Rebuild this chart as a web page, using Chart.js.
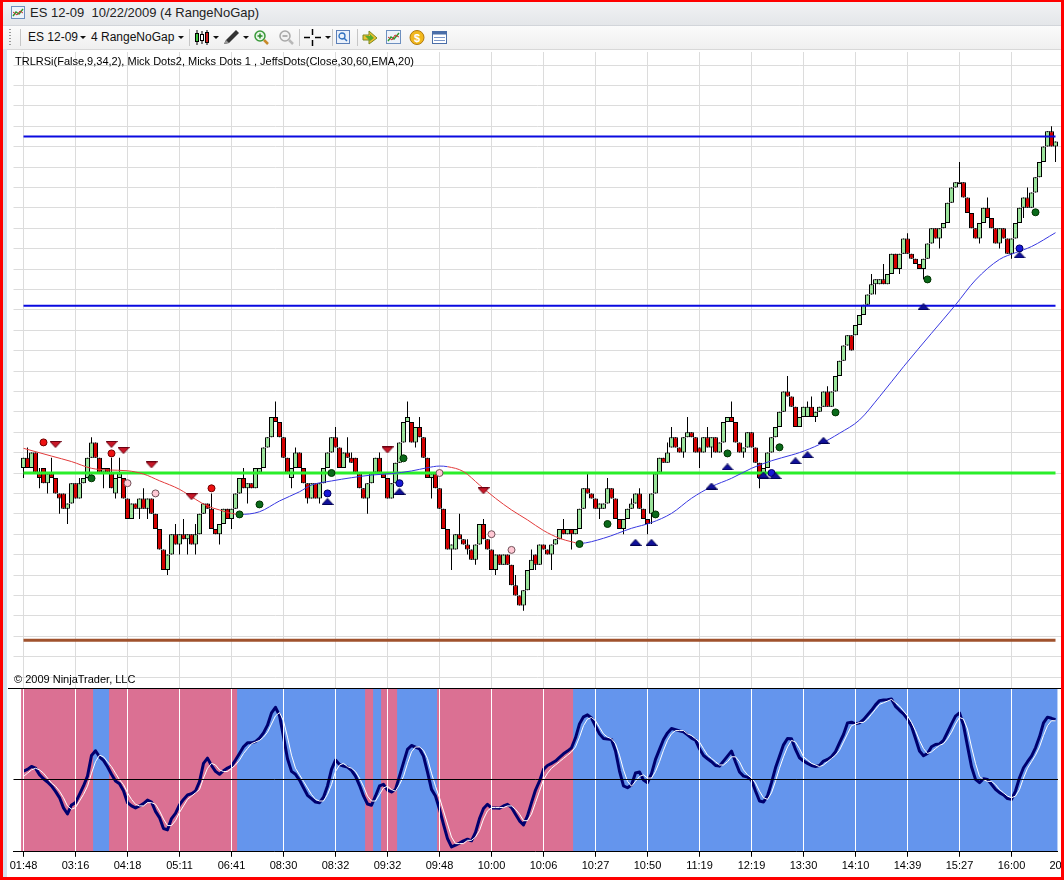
<!DOCTYPE html>
<html>
<head>
<meta charset="utf-8">
<title>ES 12-09 10/22/2009 (4 RangeNoGap)</title>
<script src="https://cdn.jsdelivr.net/npm/chart.js@4.4.1/dist/chart.umd.min.js"></script>
<style>
  html, body { margin: 0; padding: 0; background: #fff; }
  body { width: 1064px; height: 880px; overflow: hidden; position: relative;
         font-family: "Liberation Sans", Arial, sans-serif; }
  .abs { position: absolute; }
  #titlebar { position: absolute; left: 0; top: 0; width: 1064px; height: 25px;
              background: linear-gradient(#f2f3f5, #e4e6e9); border-bottom: 1px solid #d2d5da; }
  #toolbar { position: absolute; left: 0; top: 26px; width: 1064px; height: 23px;
             background: linear-gradient(#fbfbfb, #efefef); border-bottom: 1px solid #d8d8d8; }
  .txt { position: absolute; font-size: 12px; line-height: 14px; color: #111; white-space: nowrap; }
  .sep { position: absolute; top: 3px; width: 1px; height: 17px; background: #c6c6c6; }
  .arr { position: absolute; top: 10px; width: 0; height: 0;
         border-left: 3px solid transparent; border-right: 3px solid transparent; border-top: 3px solid #111; }
  .grip { position: absolute; left: 9px; top: 3px; width: 2px; height: 17px;
          background: repeating-linear-gradient(#9a9a9a 0 1px, transparent 1px 3px); }
  #price { position: absolute; left: 0; top: 52px; }
  #osc { position: absolute; left: 0; top: 686px; }
  #indLabel { position: absolute; left: 15px; top: 54px; font-size: 11px; line-height: 14px; color: #000; white-space: nowrap; }
  #copy { position: absolute; left: 14px; top: 672px; font-size: 11px; line-height: 14px; color: #000; white-space: nowrap; }
  #oscTop { position: absolute; left: 8px; top: 688px; width: 1054px; height: 1px; background: #000; z-index: 3; }
  #leftStrip { position: absolute; left: 3px; top: 49px; width: 4px; height: 828px; background: #d6e2f0; }
  #frame { position: absolute; left: 0; top: 0; width: 1064px; height: 880px; box-sizing: border-box;
           border: solid #ff0000; border-width: 2px 3px 3px 3px; pointer-events: none; z-index: 20; }
</style>
</head>
<body>
<div id="titlebar">
  <svg class="abs" style="left:11px;top:6px" width="14" height="13">
    <rect x="0.5" y="0.5" width="13" height="12" fill="#eef3fa" stroke="#6d8fbf"/>
    <polyline points="2,10 5,6 8,8 12,3" fill="none" stroke="#2c9a2c" stroke-width="1.4"/>
    <polyline points="2,6 6,9 9,5 12,7" fill="none" stroke="#d03030" stroke-width="1"/>
  </svg>
  <span class="txt" style="left:30px;top:5px;font-size:13px;line-height:15px;color:#222">ES 12-09&nbsp; 10/22/2009 (4 RangeNoGap)</span>
</div>
<div id="toolbar">
  <div class="grip"></div>
  <div class="sep" style="left:20px"></div>
  <span class="txt" style="left:28px;top:4px">ES 12-09</span><div class="arr" style="left:80px"></div>
  <span class="txt" style="left:91px;top:4px">4 RangeNoGap</span><div class="arr" style="left:178px"></div>
  <div class="sep" style="left:189px"></div>
  <svg class="abs" style="left:194px;top:3px" width="18" height="17">
    <line x1="3" y1="1" x2="3" y2="16" stroke="#000"/><rect x="1.5" y="4.5" width="3" height="8" fill="#3cc23c" stroke="#000"/>
    <line x1="8" y1="2" x2="8" y2="15" stroke="#000"/><rect x="6.5" y="5.5" width="3" height="6" fill="#fff" stroke="#000"/>
    <line x1="13" y1="1" x2="13" y2="16" stroke="#000"/><rect x="11.5" y="3.5" width="3" height="10" fill="#d02020" stroke="#000"/>
  </svg>
  <div class="arr" style="left:213px"></div>
  <svg class="abs" style="left:222px;top:3px" width="18" height="17">
    <polygon points="2,15 4,11 14,1 17,4 7,14" fill="#333"/><polygon points="2,15 4,11 7,14" fill="#999"/>
  </svg>
  <div class="arr" style="left:243px"></div>
  <svg class="abs" style="left:253px;top:3px" width="17" height="17">
    <circle cx="7" cy="7" r="5" fill="#e8f6e8" stroke="#3a9a3a" stroke-width="1.5"/>
    <line x1="4.5" y1="7" x2="9.5" y2="7" stroke="#2a8a2a" stroke-width="1.5"/><line x1="7" y1="4.5" x2="7" y2="9.5" stroke="#2a8a2a" stroke-width="1.5"/>
    <line x1="11" y1="11" x2="15" y2="15" stroke="#c98a2a" stroke-width="2.5"/>
  </svg>
  <svg class="abs" style="left:278px;top:3px" width="17" height="17">
    <circle cx="7" cy="7" r="5" fill="#f2f2f2" stroke="#a8a8a8" stroke-width="1.5"/>
    <line x1="4.5" y1="7" x2="9.5" y2="7" stroke="#9a9a9a" stroke-width="1.5"/>
    <line x1="11" y1="11" x2="15" y2="15" stroke="#b8b8b8" stroke-width="2.5"/>
  </svg>
  <div class="sep" style="left:299px"></div>
  <svg class="abs" style="left:304px;top:3px" width="18" height="17">
    <line x1="0" y1="8.5" x2="6" y2="8.5" stroke="#000" stroke-width="1.5"/><line x1="11" y1="8.5" x2="17" y2="8.5" stroke="#000" stroke-width="1.5"/>
    <line x1="8.5" y1="0" x2="8.5" y2="6" stroke="#000" stroke-width="1.5"/><line x1="8.5" y1="11" x2="8.5" y2="17" stroke="#000" stroke-width="1.5"/>
  </svg>
  <div class="arr" style="left:325px"></div>
  <div class="sep" style="left:332px"></div>
  <svg class="abs" style="left:335px;top:3px" width="17" height="17">
    <rect x="1.5" y="1.5" width="13" height="13" fill="#eaf1fb" stroke="#5b7fb8"/>
    <circle cx="7" cy="7" r="3" fill="none" stroke="#3070c0" stroke-width="1.3"/><line x1="9" y1="9" x2="12" y2="12" stroke="#3070c0" stroke-width="1.5"/>
  </svg>
  <div class="sep" style="left:357px"></div>
  <svg class="abs" style="left:362px;top:3px" width="17" height="17">
    <polygon points="1,6 7,6 7,2 15,9 7,15 7,11 1,11" fill="#f0c030" stroke="#7a8a20"/>
    <polygon points="3,7 8,7 8,5 12,9 8,12" fill="#5aaa2a"/>
  </svg>
  <svg class="abs" style="left:385px;top:3px" width="17" height="17">
    <rect x="1.5" y="1.5" width="14" height="13" fill="#eef3fa" stroke="#6d8fbf"/>
    <polyline points="3,12 6,8 9,10 14,4" fill="none" stroke="#2c9a2c" stroke-width="1.4"/>
    <polyline points="3,8 7,11 10,6 14,8" fill="none" stroke="#d03030"/>
  </svg>
  <svg class="abs" style="left:409px;top:3px" width="17" height="17">
    <circle cx="8" cy="8.5" r="7" fill="#f2b81c" stroke="#b07a10"/>
    <text x="8" y="12.5" font-size="11" font-weight="bold" text-anchor="middle" fill="#fff" font-family="Liberation Sans, Arial">$</text>
  </svg>
  <svg class="abs" style="left:431px;top:3px" width="17" height="17">
    <rect x="1.5" y="2.5" width="14" height="12" fill="#fff" stroke="#4a6ea8"/>
    <rect x="1.5" y="2.5" width="14" height="3" fill="#4a6ea8"/>
    <line x1="3" y1="8.5" x2="14" y2="8.5" stroke="#7a96c8"/><line x1="3" y1="11.5" x2="14" y2="11.5" stroke="#7a96c8"/>
  </svg>
</div>
<div id="leftStrip"></div>

<canvas id="price" width="1064" height="636"></canvas>
<div id="indLabel">TRLRSi(False,9,34,2), Mick Dots2, Micks Dots 1 , JeffsDots(Close,30,60,EMA,20)</div>
<div id="copy">© 2009 NinjaTrader, LLC</div>
<div id="oscTop"></div>
<canvas id="osc" width="1064" height="194"></canvas>
<div id="frame"></div>

<script>
// Range bars, prices in points measured from the floor pivot (the green line).
const opens = [
  .25,.75,.25,1,0,.25,-.5,0,-.25,-1,-1,-1.75,-1.5,
  -.5,-1.25,-.5,-.25,.75,1.5,.75,0,.25,0,-1,-.25,-.25,
  -1.25,-2.25,-1.5,-1.75,-1.25,-1.75,-1.25,-2,-2.75,-3.75,-4.75,-4,-3,
  -3.5,-3,-3.25,-3,-3.5,-3,-2,-1.5,-1.75,-2.75,-3,-2.5,-1.75,
  -2.25,-1.75,-1,-.25,-.75,-.5,-.75,0,.25,1.25,1.75,2.75,2.5,
  1.75,.75,-.25,.25,1,.25,-.5,-1.25,-.5,-1.25,-.5,.25,1,
  1.75,1.25,.25,1,.75,.75,0,-.75,-1.25,-.5,0,.75,0,
  -.25,-1.25,-.5,.5,1.5,2.5,2.5,1.5,2.25,1.75,.75,-.25,0,
  -.75,-1.75,-2.75,-3.75,-3.75,-3,-3.25,-3.5,-3.75,-4.25,-3.5,-2.5,-3.25,
  -3.75,-4.75,-4,-4.5,-4,-4.5,-5.5,-6,-6.5,-5.75,-4.75,-4,-4.5,
  -3.5,-3.75,-4,-3.5,-3.25,-2.75,-3,-2.75,-3,-2.75,-1.75,-.75,-1,
  -1.25,-1.75,-1.75,-1.5,-.75,-1.25,-2.25,-2.75,-2.25,-1.75,-1.5,-1,-1.75,
  -2.25,-2,-1,0,.75,.5,1.25,1.75,1.25,1,1.75,2,1.75,
  1.25,1,1.75,1.25,1.75,1,1.5,2.5,2.75,2.5,1.5,1,1.25,
  2,1.25,.5,-.25,.25,1,1.75,2.25,3,4,3.75,3.25,2.25,
  2.75,2.75,3.25,2.75,3,3.25,4,3.25,4,4.75,5.5,6.25,6.75,
  6.75,7.25,7.75,8.25,8.75,9.25,9.25,9.5,9.25,9.75,10.75,10,10.75,
  11.5,10.75,10.5,10.25,10,10.5,11.25,12,11.5,12,12.25,13.25,14,
  14.25,14.25,13.5,12.75,12,11.5,12.25,13,12.5,12,11.25,12,11.5,
  10.75,11.5,12.25,13,13.5,13,13.75,14.5,15.25,16,16.75,16
];
const highs = [
  .75,1.25,1,1,.25,.25,0,.75,-.25,-1,-1,-1.5,-.5,
  -.5,-.25,-.25,.75,1.75,1.5,.75,.25,.25,.75,-.25,.75,-.25,
  -1.25,-1.5,-1.5,-1.25,-.75,-1.25,-1.25,-2,-2.75,-3.75,-4,-3,-2.5,
  -3,-2.25,-3,-3,-2.5,-2,-1.5,-1.5,-1,-2.75,-2.5,-1.75,-1.75,
  -1.75,-1,-.25,.25,-.5,-.5,.25,.25,1.25,1.75,2.75,3.5,2.5,
  1.75,.75,.25,1.25,1,.25,-.5,-.5,-.5,-.5,.25,1,1.75,
  2.25,1.25,1,1.75,1,.75,0,-.75,-.5,0,.75,1,0,
  -.25,-.5,.5,1.5,2.5,3.5,2.5,2.25,2.75,1.75,.75,0,0,
  -.75,-1.75,-2.75,-3.5,-3,-2,-3.25,-3.25,-3.75,-3.5,-2.5,-2.25,-3.25,
  -3.75,-4,-4,-4,-4,-4.5,-5,-6,-5.75,-4.75,-3.75,-4,-3.5,
  -3.5,-3.75,-3.5,-3.25,-2.75,-2.25,-2.75,-2.75,-2.75,-1.75,-.75,0,-1,
  -1.25,-1.5,-1.5,-.25,-.75,-1.25,-2.25,-2.25,-1.75,-1.25,-1,-.75,-1.75,
  -2.25,-1,0,.75,.75,1.5,2.25,1.75,1.25,1.75,2.75,2,1.75,
  1.25,1.75,2.25,1.75,1.75,1.5,2.5,2.75,3.5,2.5,1.5,1.25,2,
  2,1.25,.5,.25,1,1.75,2.25,3,4,4.75,3.75,3.25,2.75,
  3.25,3.5,3.75,3,3.25,4,4.25,4,4.75,5.5,6.25,6.75,6.75,
  7.25,7.75,8.25,8.75,9.75,9.5,9.5,10.25,9.75,10.75,10.75,10.75,11.5,
  11.75,10.75,10.5,10.25,10.5,11.25,12,12,12,12.25,13.25,14,14.25,
  15.25,14.25,13.5,12.75,12,12.25,13,13.5,12.5,12,12,12,11.5,
  11.5,12.25,13,13.5,14,13.75,14.5,15.25,16,16.75,17,16.25
];
const lows = [
  -.25,.25,.25,0,-.75,-.5,-1,-.25,-1,-2,-1.75,-2.5,-1.5,
  -1.25,-1.25,-.5,-.25,.75,.75,0,-.75,0,-.75,-1.25,-.25,-1.25,
  -2.25,-2.25,-1.75,-2.25,-1.75,-2.25,-2,-2.75,-3.75,-4.75,-5,-4,-3.5,
  -4,-3.25,-4,-3.5,-4,-3,-2,-1.75,-2.75,-3,-3.5,-2.5,-2.25,
  -2.75,-1.75,-1,-.75,-1.5,-.75,-.75,0,.25,1.25,1.75,2.5,1.75,
  .75,0,-.75,.25,.25,-.5,-1.5,-1.25,-1.25,-1.5,-.5,.25,1,
  1.25,.25,.25,.75,.5,0,-.75,-1.25,-2,-.5,0,0,-.25,
  -1.25,-1.25,-.5,.5,1.5,2.5,1.5,1.25,1.75,.75,-.25,-1.25,-.75,
  -1.75,-2.75,-3.75,-4.75,-3.75,-3.25,-3.5,-4,-4.25,-4.5,-3.5,-3.25,-3.75,
  -4.75,-5,-4.5,-4.5,-4.5,-5.5,-6,-6.5,-6.75,-5.75,-4.75,-4.75,-4.5,
  -3.75,-4,-4.75,-3.5,-3.25,-3,-3,-3.75,-3,-2.75,-1.75,-1,-1.25,
  -1.75,-2.25,-1.75,-1.5,-1.25,-2.25,-2.75,-3,-2.25,-1.75,-1.5,-1.75,-2.25,
  -3,-2.5,-1,0,.5,.5,1.25,1.25,1,.75,1.75,1.75,1,
  .25,1,1.25,.75,1,1,1.5,2.5,2.5,1.5,1,.75,1.25,
  1.25,.5,-.75,-.25,.25,1,1.75,2.25,3,3.75,3.25,2.25,2.25,
  2.75,2.75,2.75,2.5,3,3.25,3.25,3.25,4,4.75,5.5,6.25,6,
  6.75,7.25,7.75,8.25,8.75,8.75,9.25,9.25,9.25,9.75,10,9.75,10.75,
  10.75,10.5,10.25,10,9.5,10.5,11.25,11.5,11,12,12.25,13.25,14,
  14.25,13.5,12.75,12,11.5,11.25,12.25,12.5,12,11.25,11,11.5,10.75,
  10.5,11.5,12.25,12.5,13,13,13.75,14.5,15.25,16,16,15.25
];
const closes = [
  .75,.25,1,0,-.25,-.5,0,-.25,-1,-1.25,-1.75,-1.5,-.5,
  -1.25,-.5,-.25,.75,1.5,.75,0,.25,0,-.75,-.25,0,-1.25,
  -2.25,-1.5,-1.75,-1.25,-1.75,-1.25,-2,-2.75,-3.75,-4.75,-4,-3,-3.5,
  -3,-3.25,-3,-3.5,-3,-2,-1.5,-1.75,-2.75,-3,-2.5,-1.75,-2.25,
  -1.75,-1,-.25,-.75,-.5,-.75,.25,.25,1.25,1.75,2.75,2.5,1.75,
  .75,0,.25,1,.25,-.5,-1.25,-.5,-1.25,-.5,.25,1,1.75,
  1.25,.25,1,.75,.5,0,-.75,-1.25,-.5,0,.75,0,-.25,
  -1.25,-.5,.5,1.5,2.5,2.75,1.5,2.25,1.75,.75,-.25,0,-.75,
  -1.75,-2.75,-3.75,-3.5,-3,-3.25,-3.5,-3.75,-4.25,-3.5,-2.5,-3.25,-3.75,
  -4.75,-4,-4.5,-4,-4.5,-5.5,-6,-6.5,-5.75,-4.75,-4.25,-4.5,-3.5,
  -3.75,-4,-3.5,-3.25,-2.75,-3,-2.75,-3,-2.75,-1.75,-.75,-1,-1.25,
  -1.75,-1.5,-1.5,-.75,-1.25,-2.25,-2.75,-2.25,-1.75,-1.5,-1,-1.75,-2.25,
  -2.5,-1,0,.75,.5,1,1.75,1.25,1,1.75,2,1.75,1,
  1,1.75,1.25,1.75,1,1.5,2.5,2.75,2.5,1.5,1,1.25,2,
  1.25,.5,-.25,.25,1,1.75,2.25,3,4,3.75,3.25,2.25,2.75,
  3.25,3.25,2.75,3,3.25,4,3.25,4,4.75,5.5,6.25,6.75,6,
  7.25,7.75,8.25,8.75,9.25,9.5,9.5,9.25,9.75,10.75,10,10.75,11.5,
  10.75,10.5,10.25,10,10.5,11.25,12,11.5,12,12.25,13.25,14,14.25,
  14.25,13.5,12.75,12,11.5,12.25,13,12.5,12,11.25,12,11.5,10.75,
  11.5,12.25,13,13.5,13,13.75,14.5,15.25,16,16.75,16,16.25
];

// Floor pivot levels: R2, R1, PP, S1
const pivotLevels = [16.5, 8.2, 0, -8.2];
const pivotColors = ['#0a0ae0', '#0a0ae0', '#2aee2a', '#a0522d'];
const pivotWidths = [2, 2, 3, 3];

// JeffsDots EMA, read every few bars
const maBars = [0,7,12,17,21,26,30,34,39,43,46,49,52,54,59,64,69,72,77,82,87,92,97,101,104,106,110,114,
  118,122,126,130,134,137,139,145,152,157,162,167,172,177,182,187,192,194,199,204,209,214,220,227,233,238,244,248,252,258];
const maValues = [1.21,0.83,0.56,0.23,0.15,0.11,-0.05,-0.38,-0.8,-1.29,-1.62,-1.81,-1.98,-2.03,-1.9,-1.37,-0.92,-0.59,
  -0.39,-0.23,-0.1,-0.03,0.1,0.26,0.34,0.31,0.07,-0.59,-1.24,-1.81,-2.3,-2.82,-3.2,-3.37,-3.45,-3.2,-2.71,-2.43,-1.98,
  -1.24,-0.67,-0.26,0.23,0.6,0.88,1.0,1.4,1.95,2.6,3.74,5.21,6.85,8.24,9.46,10.47,10.8,11.1,11.78];
const maTurnBars = [0, 54, 105, 139];
const maTurnSides = ['down', 'up', 'down', 'up'];

// dot / arrow signals: [bar, price]
const redDots = [[5,1.5],[22,0.96],[47,-0.75]];
const redArrows = [[8,1.4],[22,1.4],[25,1.1],[32,0.4],[42,-1.16],[91,1.13],[115,-0.87]];
const greenDots = [[17,-0.26],[54,-2.03],[59,-1.54],[77,0],[95,0.72],[139,-3.48],[146,-2.5],[158,-2.03],
  [176,0.96],[189,1.26],[203,2.97],[226,9.49],[253,12.78]];
const pinkDots = [[26,-0.5],[33,-1.0],[104,0],[117,-3.0],[122,-3.77]];
const blueDots = [[76,-1.0],[94,-0.5],[187,0],[249,11.01]];
const blueArrows = [[76,-1.4],[94,-0.9],[153,-3.4],[157,-3.4],[172,-0.64],[176,0.3],[185,-0.1],[188,-0.13],
  [193,0.6],[196,0.9],[200,1.6],[225,8.15],[249,10.69]];

// TRLRSi oscillator (thick) and its signal (thin white)
const rsiLine = [
  49.3,50.3,52.1,51.1,47.1,44.6,42.6,40.2,36.9,33.1,26.8,23.1,28.6,
  30.0,35.1,40.2,46.2,58.8,61.7,58.0,55.8,51.9,47.3,43.2,41.6,37.3,
  30.0,28.0,26.8,28.0,29.4,31.6,30.4,24.7,20.9,14.2,13.4,20.3,23.5,
  28.6,32.0,34.7,35.5,37.1,42.8,54.0,57.2,52.7,49.1,47.3,49.5,51.1,
  52.3,56.0,60.0,64.1,66.5,66.5,67.3,69.4,72.6,77.3,84.8,88.2,83.2,
  70.2,56.8,49.1,47.3,43.8,39.1,34.5,32.5,30.4,30.0,33.3,40.2,50.3,
  56.0,53.3,52.3,51.7,49.7,46.2,40.6,34.1,29.2,28.4,34.1,40.2,41.2,
  37.7,36.5,38.1,46.2,54.4,62.5,64.9,63.9,62.9,58.4,48.7,38.1,34.1,
  26.0,16.8,8.1,3.0,4.1,5.3,6.7,7.7,6.7,11.8,20.3,26.4,29.0,
  26.8,26.8,26.6,28.0,29.0,27.0,22.9,18.9,16.4,21.9,30.0,37.7,43.2,
  50.3,52.7,54.0,55.4,57.6,59.8,61.5,63.5,69.6,78.1,82.4,83.6,81.7,
  76.7,72.0,69.2,68.8,68.6,61.5,49.3,40.2,39.1,40.8,48.1,48.7,43.8,
  42.2,47.7,56.4,62.5,68.6,72.6,75.3,74.6,73.8,73.2,71.4,69.4,68.2,
  62.9,58.8,56.8,55.0,52.7,52.3,55.4,58.4,61.5,54.8,48.7,46.2,45.6,
  43.8,37.1,31.0,30.4,34.1,42.2,51.3,58.4,65.3,69.2,69.0,62.5,57.4,
  55.4,54.0,52.7,52.1,52.7,55.4,56.4,58.0,61.1,66.5,71.6,78.7,79.1,
  78.1,78.7,80.7,83.6,86.4,89.7,92.3,92.7,92.9,93.3,88.8,86.4,84.2,
  81.1,76.7,69.2,61.5,58.6,60.0,64.1,65.5,65.9,68.0,73.0,78.1,82.8,
  84.8,77.3,64.5,51.9,44.2,42.2,44.6,44.2,41.2,38.1,36.1,34.7,32.5,
  32.0,37.1,45.2,51.3,55.0,58.4,63.5,70.2,78.7,82.2,81.5,80.7
];
const rsiSignal = [
  46,48,50,51,50,48,45,42,40,37,33,28,26,
  27,31,35,40,48,55,59,58,55,52,48,44,41,
  36,32,29,28,28,30,30,29,25,20,16,16,19,
  24,28,32,34,36,38,45,51,54,53,50,49,49,
  51,53,56,60,63,66,67,68,70,73,78,83,85,
  80,70,59,51,47,43,39,35,32,31,31,35,41,
  49,53,54,52,51,49,45,40,34,31,31,35,39,
  40,38,37,41,46,54,61,64,64,62,57,48,40,
  33,25,17,9,5,5,5,7,7,9,13,20,25,
  27,27,27,27,28,28,26,23,19,19,23,30,37,
  44,48,51,53,55,57,59,61,64,70,77,81,82,
  80,76,72,70,69,66,59,50,43,40,43,46,47,
  45,45,49,55,62,68,72,74,74,74,72,71,69,
  67,63,59,57,55,53,53,55,58,58,55,50,47,
  45,42,37,33,32,36,43,51,58,64,68,67,63,
  58,56,54,53,52,53,55,57,59,62,67,72,77,
  78,79,79,81,84,87,90,91,92,93,91,89,86,
  83,79,74,68,63,60,61,63,65,66,69,73,78,
  82,81,75,64,54,46,44,43,43,41,38,36,34,
  33,34,38,45,51,55,59,64,71,77,80,80
];
const rsiMid = 44;
const bandStarts = [0, 18, 22, 54, 86, 88, 90, 94, 104, 138];
const bandSides = ['down','up','down','up','down','up','down','up','down','up'];

const tickBars = [0,13,26,39,52,65,78,91,104,117,130,143,156,169,182,195,208,221,234,247,258];
const timeLabels = ['01:48','03:16','04:18','05:11','06:41','08:30','08:32','09:32','09:48','10:00',
  '10:06','10:27','10:50','11:19','12:19','13:30','14:10','14:39','15:27','16:00','20'];

// ---------------------------------------------------------------------------
Chart.defaults.font.family = '"Liberation Sans", Arial, sans-serif';
Chart.defaults.font.size = 11;
Chart.defaults.color = '#000';

const UP = '#9be39b', DOWN = '#d40000', GRID = '#dcdcdc';
const bars = closes.map((_, i) => i);
const lastBar = bars[bars.length - 1];

function sideFrom(starts, sides, bar) {
  let s = sides[0];
  starts.forEach((b, k) => { if (bar >= b) s = sides[k]; });
  return s;
}

function flatTriangle(fill, stroke, down) {
  const c = document.createElement('canvas');
  c.width = 12; c.height = 7;
  const g = c.getContext('2d');
  g.beginPath();
  if (down) { g.moveTo(0.5, 0.5); g.lineTo(11.5, 0.5); g.lineTo(6, 6.5); }
  else { g.moveTo(6, 0.5); g.lineTo(11.5, 6.5); g.lineTo(0.5, 6.5); }
  g.closePath();
  g.fillStyle = fill; g.fill();
  g.strokeStyle = stroke; g.lineWidth = 1; g.stroke();
  return c;
}

const signalSet = (pairs, style) => Object.assign({
  type: 'scatter',
  data: pairs.map(([x, y]) => ({ x, y })),
  order: 0,
  pointRadius: 3.5,
  borderWidth: 1
}, style);

// price panel maps page y 52..688; green pivot sits at y 473, 20.4 px per point
const priceMax = (473 - 52) / 20.4;
const priceMin = (473 - 688) / 20.4;

new Chart(document.getElementById('price'), {
  type: 'bar',
  data: {
    datasets: [
      signalSet(redArrows, { pointStyle: flatTriangle('#c81828', '#6a0010', true) }),
      signalSet(blueArrows, { pointStyle: flatTriangle('#10109a', '#000050', false) }),
      signalSet(redDots, { pointStyle: 'circle', backgroundColor: '#ee1111', borderColor: '#700000' }),
      signalSet(greenDots, { pointStyle: 'circle', backgroundColor: '#0a6a1a', borderColor: '#003300' }),
      signalSet(pinkDots, { pointStyle: 'circle', backgroundColor: '#ffc8d4', borderColor: '#705058' }),
      signalSet(blueDots, { pointStyle: 'circle', backgroundColor: '#1818d8', borderColor: '#000060' }),
      {
        type: 'line',
        data: maBars.map((b, i) => ({ x: b, y: maValues[i] })),
        borderColor: '#3838e0',
        borderWidth: 1,
        pointRadius: 0,
        cubicInterpolationMode: 'monotone',
        segment: {
          borderColor: ctx => sideFrom(maTurnBars, maTurnSides, maBars[ctx.p0DataIndex]) === 'down' ? '#e23a3a' : '#3838e0'
        },
        order: 1
      },
      ...pivotLevels.map((lv, k) => ({
        type: 'line',
        data: [{ x: bars[0], y: lv }, { x: lastBar, y: lv }],
        borderColor: pivotColors[k],
        borderWidth: pivotWidths[k],
        pointRadius: 0,
        order: 2
      })),
      {
        type: 'bar',
        data: bars.map(i => ({ x: i, y: [opens[i], closes[i]] })),
        backgroundColor: bars.map(i => closes[i] >= opens[i] ? UP : DOWN),
        borderColor: '#000',
        borderWidth: 1,
        borderSkipped: false,
        barThickness: 5,
        minBarLength: 2,
        inflateAmount: 0,
        order: 3
      },
      {
        type: 'bar',
        data: bars.map(i => ({ x: i, y: [lows[i], highs[i]] })),
        backgroundColor: '#000',
        barThickness: 1,
        maxBarThickness: 1,
        grouped: false,
        inflateAmount: 0,
        order: 4
      }
    ]
  },
  options: {
    responsive: false,
    animation: false,
    events: [],
    layout: { autoPadding: false, padding: { left: 13.5, right: 2.5, top: 0, bottom: 0 } },
    plugins: { legend: { display: false }, tooltip: { enabled: false } },
    scales: {
      x: {
        type: 'linear', min: -2.5, max: lastBar + 1.5, offset: false,
        afterBuildTicks: s => { s.ticks = tickBars.filter(b => b !== lastBar).map(v => ({ value: v })); },
        afterFit: s => { s.paddingLeft = 0; s.paddingRight = 0; },
        ticks: { display: false },
        grid: { color: GRID, drawTicks: false, offset: false },
        border: { display: false }
      },
      y: {
        position: 'right', min: priceMin, max: priceMax,
        ticks: { display: false, stepSize: 1, includeBounds: false },
        grid: { color: GRID, drawTicks: false },
        border: { display: false }
      }
    }
  }
});

new Chart(document.getElementById('osc'), {
  type: 'bar',
  data: {
    datasets: [
      {
        type: 'line',
        data: bars.map(i => ({ x: i, y: rsiSignal[i] })),
        borderColor: '#ffffff', borderWidth: 1, pointRadius: 0, order: 0
      },
      {
        type: 'line',
        data: bars.map(i => ({ x: i, y: rsiLine[i] })),
        borderColor: '#00006e', borderWidth: 3, pointRadius: 0,
        borderJoinStyle: 'round', order: 1
      },
      {
        type: 'bar',
        data: bars.map(i => ({ x: i, y: [0, 100] })),
        backgroundColor: bars.map(i => sideFrom(bandStarts, bandSides, i) === 'up' ? '#6495ed' : '#db7093'),
        barThickness: 4,
        inflateAmount: 0.4,
        order: 2
      }
    ]
  },
  options: {
    responsive: false,
    animation: false,
    events: [],
    layout: { autoPadding: false, padding: { left: 13.5, right: 6.5, top: 2, bottom: 4 } },
    plugins: { legend: { display: false }, tooltip: { enabled: false } },
    scales: {
      x: {
        type: 'linear', min: -2.5, max: lastBar + 0.5, offset: false,
        afterBuildTicks: s => { s.ticks = tickBars.map(v => ({ value: v })); },
        afterFit: s => { s.paddingLeft = 0; s.paddingRight = 0; },
        ticks: {
          autoSkip: false, maxRotation: 0, padding: 3, color: '#000',
          font: { size: 11 },
          callback: (v, i) => timeLabels[i]
        },
        grid: {
          z: 1,
          offset: false,
          color: ctx => (ctx.tick && ctx.tick.value === lastBar) ? 'rgba(0,0,0,0)' : '#ffffff',
          tickColor: ctx => (ctx.tick && ctx.tick.value === lastBar) ? 'rgba(0,0,0,0)' : '#000',
          tickLength: 5
        },
        border: { color: '#000', width: 1, z: 1 }
      },
      y: {
        position: 'right', min: 0, max: 100,
        afterBuildTicks: s => { s.ticks = [{ value: rsiMid }]; },
        ticks: { display: false },
        grid: { z: 1, color: '#000', drawTicks: false },
        border: { display: false }
      }
    }
  }
});
</script>
</body>
</html>
